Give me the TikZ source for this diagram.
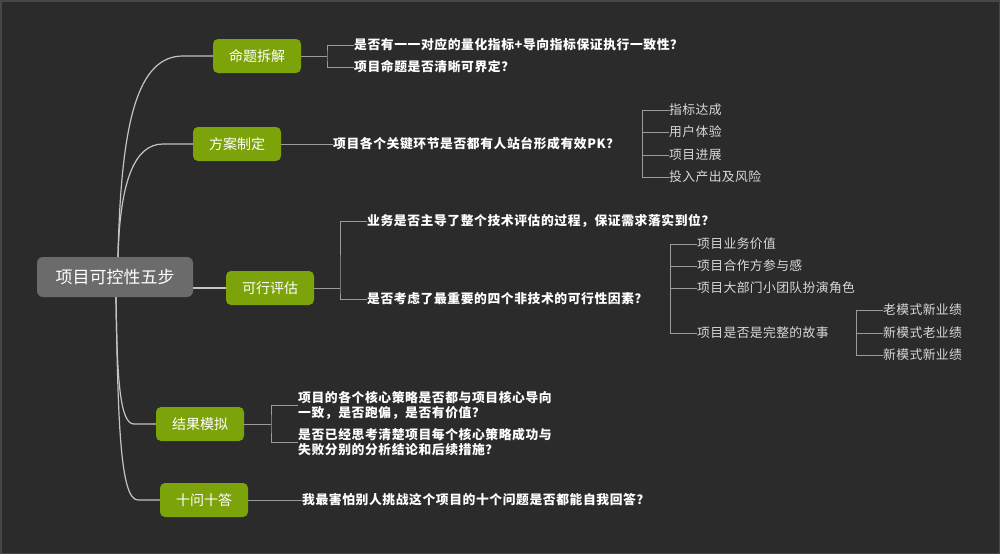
\documentclass[tikz,border=0pt]{standalone}
\usepackage{fontspec}
\setmainfont{Noto Sans CJK SC}
\definecolor{bgc}{HTML}{2B2B2B}
\definecolor{framec}{HTML}{474747}
\definecolor{rootc}{HTML}{6B6B6B}
\definecolor{greenc}{HTML}{7DA30B}
\definecolor{mainline}{HTML}{C4C4C4}
\definecolor{subline}{HTML}{9C9C9C}
\definecolor{lighttext}{HTML}{D8D8D8}
\tikzset{
  rootbox/.style={fill=rootc, rounded corners=6pt, minimum width=156pt, minimum height=40pt,
    text=white, font=\fontsize{17}{20}\selectfont, inner sep=0pt},
  topicbox/.style={fill=greenc, rounded corners=5pt, minimum width=88pt, minimum height=34pt,
    text=white, font=\fontsize{14}{17}\selectfont, inner sep=0pt},
  qtext/.style={anchor=west, inner sep=0pt, text=white, font=\bfseries\fontsize{12.8}{15}\selectfont\addfontfeature{LetterSpace=4.5}, align=left},
  ltext/.style={anchor=west, inner sep=0pt, text=lighttext, font=\fontsize{12.8}{15}\selectfont\addfontfeature{LetterSpace=3}},
  mainconn/.style={draw=mainline, line width=1.2pt},
  subconn/.style={draw=subline, line width=1pt},
}
\begin{document}
\begin{tikzpicture}[x=1pt,y=-1pt]
\fill[bgc] (0,0) rectangle (1000,554);
\draw[framec, line width=1.5pt] (0.75,0.75) rectangle (999.25,553.25);

% root and topics
\node[rootbox] (root) at (115,277) {项目可控性五步};
\node[topicbox] (b1) at (257,56) {命题拆解};
\node[topicbox] (b2) at (237,144) {方案制定};
\node[topicbox] (b3) at (270,288) {可行评估};
\node[topicbox] (b4) at (200,424) {结果模拟};
\node[topicbox] (b5) at (204,500) {十问十答};

% main connectors
\draw[mainconn] ([xshift=3pt]root.north) .. controls (121,120) and (138,56) .. (183,56) -- (b1.west);
\draw[mainconn] ([xshift=3pt]root.north) .. controls (120,180) and (135,144) .. (163,144) -- (b2.west);
\draw[mainconn] (root.east |- b3.west) -- (b3.west);
\draw[mainconn] ([xshift=1pt]root.south) .. controls (117,380) and (120,424) .. (134,424) -- (b4.west);
\draw[mainconn] ([xshift=1pt]root.south) .. controls (118,420) and (120,500) .. (138,500) -- (b5.west);

% branch 1
\node[qtext] (t11) at (354,45) {是否有一一对应的量化指标+导向指标保证执行一致性？};
\node[qtext] (t12) at (354,67) {项目命题是否清晰可界定？};
\coordinate (j1) at (327,56);
\draw[subconn] (b1.east) -- (j1);
\draw[subconn] (t11.west) -| (j1) |- (t12.west);

% branch 2
\node[qtext] (t2) at (333,144) {项目各个关键环节是否都有人站台形成有效PK？};
\draw[subconn] (b2.east) -- (t2.west);
\node[ltext] (t2a) at (669,110) {指标达成};
\node[ltext] (t2b) at (669,132) {用户体验};
\node[ltext] (t2c) at (669,155) {项目进展};
\node[ltext] (t2d) at (669,177) {投入产出及风险};
\coordinate (j2) at (642,144);
\draw[subconn] (t2a.west) -| (j2) |- (t2d.west);
\draw[subconn] (j2 |- t2b.west) -- (t2b.west);
\draw[subconn] (j2 |- t2c.west) -- (t2c.west);

% branch 3
\node[qtext] (t31) at (367,221) {业务是否主导了整个技术评估的过程，保证需求落实到位？};
\node[qtext] (t32) at (367,299) {是否考虑了最重要的四个非技术的可行性因素？};
\coordinate (j3) at (340,288);
\draw[subconn] (b3.east) -- (j3);
\draw[subconn] (t31.west) -| (j3) |- (t32.west);

\node[ltext] (t32a) at (697,244) {项目业务价值};
\node[ltext] (t32b) at (697,266) {项目合作方参与感};
\node[ltext] (t32c) at (697,288) {项目大部门小团队扮演角色};
\node[ltext] (t32d) at (697,333) {项目是否是完整的故事};
\coordinate (j32) at (670,288);
\draw[subconn] (t32a.west) -| (j32) |- (t32d.west);
\draw[subconn] (j32 |- t32b.west) -- (t32b.west);
\draw[subconn] (j32 |- t32c.west) -- (t32c.west);

\node[ltext] (t32d1) at (883,310) {老模式新业绩};
\node[ltext] (t32d2) at (883,333) {新模式老业绩};
\node[ltext] (t32d3) at (883,355) {新模式新业绩};
\coordinate (j32d) at (856,333);
\draw[subconn] (t32d1.west) -| (j32d) |- (t32d3.west);
\draw[subconn] (j32d |- t32d2.west) -- (t32d2.west);

% branch 4
\node[qtext] (t41) at (298,405) {项目的各个核心策略是否都与项目核心导向\\一致，是否跑偏，是否有价值？};
\node[qtext] (t42) at (298,442) {是否已经思考清楚项目每个核心策略成功与\\失败分别的分析结论和后续措施？};
\coordinate (j4) at (271,424);
\draw[subconn] (b4.east) -- (j4);
\draw[subconn] (t41.west) -| (j4) |- (t42.west);

% branch 5
\node[qtext] (t5) at (302,500) {我最害怕别人挑战这个项目的十个问题是否都能自我回答？};
\draw[subconn] (b5.east) -- (t5.west);
\end{tikzpicture}
\end{document}
